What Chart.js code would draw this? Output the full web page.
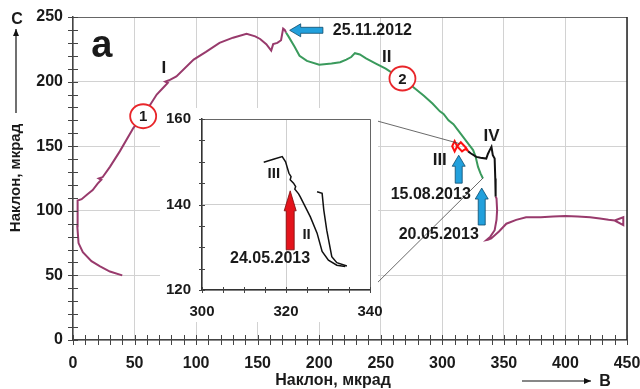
<!DOCTYPE html>
<html>
<head>
<meta charset="utf-8">
<script src="https://cdn.jsdelivr.net/npm/chart.js@4.4.1/dist/chart.umd.min.js"></script>
<style>
  html, body { margin: 0; padding: 0; background: #fff; }
  #wrap { position: relative; width: 640px; height: 389px; }
  #main { position: absolute; left: 0; top: 0; }
  #inset { position: absolute; left: 160px; top: 108px; }
</style>
</head>
<body>
<div id="wrap">
  <canvas id="main" width="640" height="389"></canvas>
  <canvas id="inset" width="230" height="214"></canvas>
</div>
<script>
// Tick labels
const mainXTicks = [0, 50, 100, 150, 200, 250, 300, 350, 400, 450];
const mainYTicks = [0, 50, 100, 150, 200, 250];
const insetXTicks = [300, 320, 340];
const insetYTicks = [120, 140, 160];

// Stage I (purple) - до 25.11.2012
const stage1X = [40, 30, 22, 15, 8, 4.5, 3.5, 4, 3.5, 7, 12, 16, 20, 23, 21, 24, 30, 38, 49, 60, 68, 74, 77, 75, 78, 84, 98, 108, 119, 130, 141, 148, 152, 157, 161, 162.6, 166, 169, 170.7, 172, 173];
const stage1Y = [50, 53, 57, 61, 68, 75, 88, 100, 108, 109, 113, 116, 121, 124, 125, 126, 134, 146, 164, 178, 190, 196, 199, 200, 201, 204, 217, 223, 230, 234, 237, 235, 233, 229, 224, 229, 230, 232, 241, 240, 238];

// Stage II (green) - 25.11.2012 .. 20.05.2013
const stage2X = [173, 175, 180, 184, 190, 200, 210, 217, 222, 226, 229, 233, 238, 246, 254, 262, 270, 276, 285, 292, 298, 301, 305, 309, 313, 317, 321, 325, 327, 329, 331, 333];
const stage2Y = [238, 235, 227, 220, 216, 213, 214, 215, 217, 219, 222, 221, 218, 214, 210, 205, 200, 196, 189, 183, 177, 175, 170, 167, 162, 157, 152, 147, 142, 134, 129, 125];

// Stage III loop (red) around 15.08.2013
const loopX = [321, 319, 315, 312, 310, 308, 310, 312, 316, 319, 321];
const loopY = [146, 149, 153, 150, 154, 150, 146, 150, 146, 148, 146];

// Stage III/IV (black)
const stage3X = [321, 323, 327.6, 331, 335.7, 337, 338.5, 339.9, 341, 342.5, 343, 343.3];
const stage3Y = [146, 144.5, 141.7, 141, 140.4, 144, 147, 149.5, 143, 140.4, 125, 110.8];

// Stage after IV (purple)
const stage4X = [343.3, 344, 344.5, 344, 342.5, 339, 335.7, 337, 339.7, 346, 352, 360, 368, 380, 390, 400, 410, 420, 428, 435, 440, 447, 447, 440];
const stage4Y = [110.8, 109.6, 100.5, 93, 85, 80, 77.3, 77.5, 78.6, 84, 90, 93, 95, 95, 95.5, 96, 95.5, 95, 94, 93, 92.5, 95, 89, 92.5];

// Inset curves
const insetIIIX = [314.7, 317, 319.1, 319.9, 320.7, 321.2, 321, 321.8, 322.3, 322.1, 323, 323.4, 325.8, 327.4, 328.6, 330.1, 332.1, 334.1];
const insetIIIY = [149.9, 150.6, 151.2, 150, 147.3, 146.5, 145.8, 145, 144.2, 143.6, 142.5, 141.8, 137.1, 133.3, 129, 127, 125.8, 125.5];
const insetIIX = [327.4, 328.6, 329, 329.7, 330.9, 332.1, 334.5];
const insetIIY = [143, 142.6, 138.7, 134, 127.8, 126.4, 125.6];

const PURPLE = '#983a6c';
const GREEN = '#3a9a5c';
const TXT = '#1a1a1a';
const FONT = '"Liberation Sans", Arial, sans-serif';

function pts(xs, ys) {
    return xs.map((x, i) => ({ x: x, y: ys[i] }));
}

function line(data, color, width) {
    return { data: data, borderColor: color, borderWidth: width, showLine: true, pointRadius: 0, tension: 0, fill: false };
}

// Seta de bloco (tail -> tip)
function blockArrow(ctx, x0, y0, x1, y1, shaftW, headW, headL, fill, stroke) {
    const ang = Math.atan2(y1 - y0, x1 - x0);
    const len = Math.hypot(x1 - x0, y1 - y0);
    ctx.save();
    ctx.translate(x0, y0);
    ctx.rotate(ang);
    ctx.beginPath();
    ctx.moveTo(0, -shaftW / 2);
    ctx.lineTo(len - headL, -shaftW / 2);
    ctx.lineTo(len - headL, -headW / 2);
    ctx.lineTo(len, 0);
    ctx.lineTo(len - headL, headW / 2);
    ctx.lineTo(len - headL, shaftW / 2);
    ctx.lineTo(0, shaftW / 2);
    ctx.closePath();
    ctx.fillStyle = fill;
    ctx.fill();
    ctx.lineWidth = 0.8;
    ctx.strokeStyle = stroke;
    ctx.stroke();
    ctx.restore();
}

function thinArrow(ctx, x0, y0, x1, y1) {
    const ang = Math.atan2(y1 - y0, x1 - x0);
    ctx.beginPath();
    ctx.moveTo(x0, y0);
    ctx.lineTo(x1, y1);
    ctx.lineWidth = 1.2;
    ctx.strokeStyle = '#111';
    ctx.stroke();
    ctx.save();
    ctx.translate(x1, y1);
    ctx.rotate(ang);
    ctx.beginPath();
    ctx.moveTo(0, 0);
    ctx.lineTo(-7, -3);
    ctx.lineTo(-7, 3);
    ctx.closePath();
    ctx.fillStyle = '#111';
    ctx.fill();
    ctx.restore();
}

function drawTickMarks(ctx, chart, half) {
    const xs = chart.scales.x, ys = chart.scales.y, ca = chart.chartArea;
    ctx.strokeStyle = '#444';
    ctx.lineWidth = 1;
    ctx.beginPath();
    xs.ticks.forEach(t => {
        const px = Math.round(xs.getPixelForValue(t.value)) + 0.5;
        ctx.moveTo(px, ca.bottom - half);
        ctx.lineTo(px, ca.bottom + half);
    });
    ys.ticks.forEach(t => {
        const py = Math.round(ys.getPixelForValue(t.value)) + 0.5;
        ctx.moveTo(ca.left - half, py);
        ctx.lineTo(ca.left + half, py);
    });
    ctx.stroke();
}

// sem padding extra dos rótulos nas bordas
function noLabelPadding(s) {
    s.paddingLeft = 0;
    s.paddingRight = 0;
    s.paddingTop = 0;
    s.paddingBottom = 0;
}

// Anotações do gráfico principal (coordenadas de dados)
const mainTexts = [
    { t: 'а', x: 23.5, y: 227, size: 38 },
    { t: 'I', x: 73.9, y: 210.4, size: 17 },
    { t: 'II', x: 254.9, y: 218.9, size: 17 },
    { t: 'III', x: 297.9, y: 139.2, size: 17 },
    { t: 'IV', x: 339.9, y: 157.8, size: 17 },
    { t: '15.08.2013', x: 290.6, y: 112.9, size: 16 },
    { t: '20.05.2013', x: 297.1, y: 81.2, size: 16 },
    { t: '25.11.2012', x: 211, y: 239.7, size: 16, align: 'left' }
];
const mainCircles = [
    { t: '1', x: 57, y: 173.2 },
    { t: '2', x: 267.6, y: 202.4 }
];
const insetTexts = [
    { t: 'III', x: 317.1, y: 147.1, size: 15 },
    { t: 'II', x: 324.9, y: 132.9, size: 15 },
    { t: '24.05.2013', x: 316.2, y: 127.3, size: 16 }
];

const insetDecor = {
    id: 'insetDecor',
    beforeDraw(chart) {
        // fundo branco do detalhe (cobre a grade principal)
        const ctx = chart.ctx;
        ctx.save();
        ctx.fillStyle = '#fff';
        ctx.fillRect(0, 0, 218, chart.height);
        ctx.restore();
    },
    afterDatasetsDraw(chart) {
        const ctx = chart.ctx, xs = chart.scales.x, ys = chart.scales.y, ca = chart.chartArea;
        ctx.save();
        ctx.strokeStyle = '#666';
        ctx.lineWidth = 1;
        ctx.beginPath();
        ctx.moveTo(ca.left, ca.top + 0.5);
        ctx.lineTo(ca.right + 0.5, ca.top + 0.5);
        ctx.lineTo(ca.right + 0.5, ca.bottom);
        ctx.stroke();
        drawTickMarks(ctx, chart, 3);
        // seta vermelha 24.05.2013
        blockArrow(ctx, xs.getPixelForValue(321), ys.getPixelForValue(129.4), xs.getPixelForValue(321), ys.getPixelForValue(143.2), 8, 12, 20, '#e3141c', '#7a0a0a');
        insetTexts.forEach(a => {
            ctx.font = 'bold ' + a.size + 'px ' + FONT;
            ctx.fillStyle = TXT;
            ctx.textAlign = 'center';
            ctx.textBaseline = 'middle';
            ctx.fillText(a.t, xs.getPixelForValue(a.x), ys.getPixelForValue(a.y));
        });
        ctx.restore();
    }
};

const insetChart = new Chart(document.getElementById('inset'), {
    type: 'scatter',
    data: {
        datasets: [
            line(pts(insetIIIX, insetIIIY), '#111', 1.5),
            line(pts(insetIIX, insetIIY), '#111', 1.5)
        ]
    },
    options: {
        responsive: false,
        animation: false,
        devicePixelRatio: 1,
        layout: { padding: { top: 11, right: 20, left: 0, bottom: 0 } },
        plugins: { legend: { display: false }, tooltip: { enabled: false } },
        scales: {
            x: {
                type: 'linear',
                min: insetXTicks[0],
                max: insetXTicks[insetXTicks.length - 1],
                afterFit(s) { s.height = 32; noLabelPadding(s); },
                ticks: {
                    stepSize: 5, autoSkip: false, maxRotation: 0, padding: 13, color: TXT,
                    font: { family: FONT, size: 15, weight: 'bold' },
                    callback: v => insetXTicks.includes(v) ? String(v) : ''
                },
                grid: { drawTicks: false, color: c => (insetXTicks.includes(c.tick.value) ? '#cfcfcf' : 'rgba(0,0,0,0)') },
                border: { color: '#333', width: 1.5 }
            },
            y: {
                type: 'linear',
                min: insetYTicks[0],
                max: insetYTicks[insetYTicks.length - 1],
                afterFit(s) { s.width = 42; noLabelPadding(s); },
                ticks: {
                    stepSize: 5, autoSkip: false, padding: 11, color: TXT,
                    font: { family: FONT, size: 15, weight: 'bold' },
                    callback: v => insetYTicks.includes(v) ? String(v) : ''
                },
                grid: { drawTicks: false, color: c => (insetYTicks.includes(c.tick.value) ? '#cfcfcf' : 'rgba(0,0,0,0)') },
                border: { color: '#333', width: 1.5 }
            }
        }
    },
    plugins: [insetDecor]
});

const mainDecor = {
    id: 'mainDecor',
    afterDatasetsDraw(chart) {
        const ctx = chart.ctx, xs = chart.scales.x, ys = chart.scales.y, ca = chart.chartArea;
        const X = v => xs.getPixelForValue(v);
        const Y = v => ys.getPixelForValue(v);
        ctx.save();

        // bordas superior e direita
        ctx.strokeStyle = '#666';
        ctx.lineWidth = 1;
        ctx.beginPath();
        ctx.moveTo(ca.left, ca.top + 0.5);
        ctx.lineTo(ca.right, ca.top + 0.5);
        ctx.stroke();
        ctx.strokeStyle = '#222';
        ctx.lineWidth = 1.5;
        ctx.beginPath();
        ctx.moveTo(ca.right, ca.top);
        ctx.lineTo(ca.right, ca.bottom);
        ctx.stroke();

        drawTickMarks(ctx, chart, 5);

        // linhas de ligação com o detalhe
        const ia = insetChart.chartArea;
        const ox = 160, oy = 108;
        ctx.strokeStyle = '#444';
        ctx.lineWidth = 0.8;
        ctx.beginPath();
        ctx.moveTo(ox + ia.right, oy + ia.top);
        ctx.lineTo(X(314), Y(152));
        ctx.moveTo(ox + ia.right, oy + ia.bottom);
        ctx.lineTo(X(333), Y(125.3));
        ctx.stroke();

        // setas azuis
        blockArrow(ctx, X(203), Y(239.7), X(176), Y(239.7), 6, 13, 11, '#22a0dc', '#0d4a6b');
        blockArrow(ctx, X(313.3), Y(121.4), X(313.3), Y(143), 7, 13, 11, '#22a0dc', '#0d4a6b');
        blockArrow(ctx, X(332), Y(89), X(332), Y(117.6), 7, 13, 11, '#22a0dc', '#0d4a6b');

        // círculos numerados
        mainCircles.forEach(c => {
            ctx.beginPath();
            ctx.ellipse(X(c.x), Y(c.y), 13, 12, 0, 0, Math.PI * 2);
            ctx.fillStyle = '#fff';
            ctx.fill();
            ctx.lineWidth = 1.8;
            ctx.strokeStyle = '#e8262a';
            ctx.stroke();
            ctx.font = 'bold 15px ' + FONT;
            ctx.fillStyle = TXT;
            ctx.textAlign = 'center';
            ctx.textBaseline = 'middle';
            ctx.fillText(c.t, X(c.x), Y(c.y) + 1);
        });

        // textos
        mainTexts.forEach(a => {
            ctx.font = 'bold ' + a.size + 'px ' + FONT;
            ctx.fillStyle = TXT;
            ctx.textAlign = a.align || 'center';
            ctx.textBaseline = 'middle';
            ctx.fillText(a.t, X(a.x), Y(a.y));
        });

        // títulos dos eixos
        ctx.font = 'bold 15px ' + FONT;
        ctx.fillStyle = TXT;
        ctx.textAlign = 'center';
        ctx.textBaseline = 'middle';
        ctx.save();
        ctx.translate(16, 178);
        ctx.rotate(-Math.PI / 2);
        ctx.fillText('Наклон, мкрад', 0, 0);
        ctx.restore();
        thinArrow(ctx, 16, 113, 16, 29);
        ctx.font = 'bold 16px ' + FONT;
        ctx.fillText('С', 17, 20);

        ctx.font = 'bold 16px ' + FONT;
        ctx.fillText('Наклон, мкрад', 333, 381);
        thinArrow(ctx, 522, 381, 591, 381);
        ctx.fillText('В', 605, 382);

        ctx.restore();
    }
};

new Chart(document.getElementById('main'), {
    type: 'scatter',
    data: {
        datasets: [
            line(pts(stage1X, stage1Y), PURPLE, 2),
            line(pts(stage4X, stage4Y), PURPLE, 2),
            line(pts(stage3X, stage3Y), '#111', 2),
            line(pts(stage2X, stage2Y), GREEN, 2),
            line(pts(loopX, loopY), '#ff1010', 2)
        ]
    },
    options: {
        responsive: false,
        animation: false,
        devicePixelRatio: 1,
        layout: { padding: { top: 17, right: 13, left: 0, bottom: 0 } },
        plugins: { legend: { display: false }, tooltip: { enabled: false } },
        scales: {
            x: {
                type: 'linear',
                min: mainXTicks[0],
                max: mainXTicks[mainXTicks.length - 1],
                afterFit(s) { s.height = 49; noLabelPadding(s); },
                ticks: {
                    stepSize: 10, autoSkip: false, maxRotation: 0, padding: 14, color: TXT,
                    font: { family: FONT, size: 16, weight: 'bold' },
                    callback: v => mainXTicks.includes(v) ? String(v) : ''
                },
                grid: { drawTicks: false, color: c => (mainXTicks.includes(c.tick.value) ? '#d2d2d2' : 'rgba(0,0,0,0)') },
                border: { color: '#444', width: 1.5 }
            },
            y: {
                type: 'linear',
                min: mainYTicks[0],
                max: mainYTicks[mainYTicks.length - 1],
                afterFit(s) { s.width = 73; noLabelPadding(s); },
                ticks: {
                    stepSize: 10, autoSkip: false, padding: 10, color: TXT,
                    font: { family: FONT, size: 16, weight: 'bold' },
                    callback: v => mainYTicks.includes(v) ? String(v) : ''
                },
                grid: { drawTicks: false, color: c => (mainYTicks.includes(c.tick.value) ? '#d2d2d2' : 'rgba(0,0,0,0)') },
                border: { color: '#444', width: 1.5 }
            }
        }
    },
    plugins: [mainDecor]
});
</script>
</body>
</html>
